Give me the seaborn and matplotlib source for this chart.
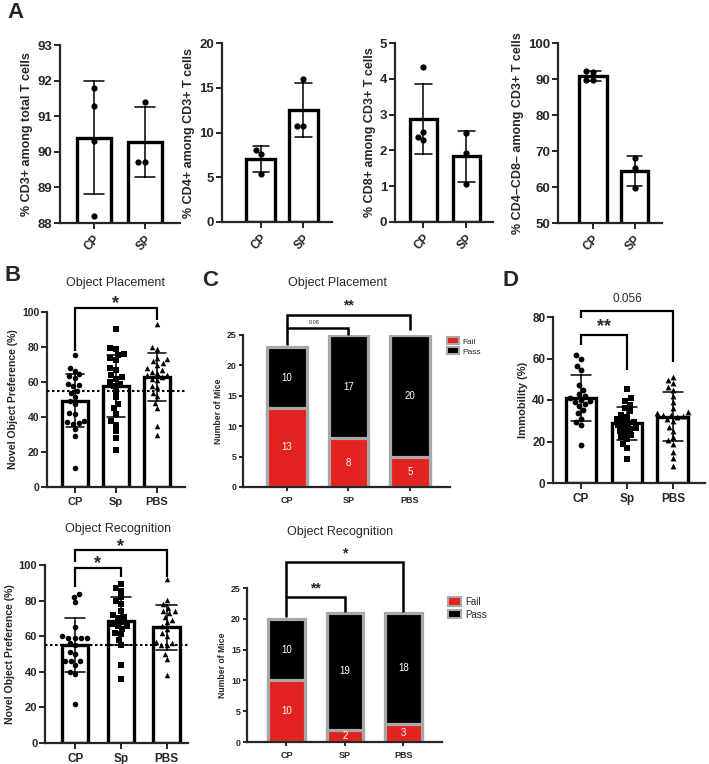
import warnings
import numpy as np
import pandas as pd
import matplotlib
matplotlib.use("Agg")
import matplotlib.pyplot as plt
import seaborn as sns
from matplotlib.patches import Patch

warnings.filterwarnings("ignore")

sns.set_style("ticks")
plt.rcParams['font.family'] = ['Liberation Sans', 'DejaVu Sans']

W, H = 709, 764

# ---------------- données ----------------
# Panel A : flow cytometry (CP vs SP)
groups_a = ["CP", "SP"]
cd3_cp = [91.8, 91.3, 90.3, 88.2]
cd3_sp = [91.4, 89.7, 89.7]
cd4_cp = [7.6, 8.1, 5.4]
cd4_sp = [16.0, 10.75, 10.75]
cd8_cp = [4.32, 2.52, 2.29, 2.37]
cd8_sp = [2.5, 1.93, 1.07]
dn_cp = [92.0, 92.3, 89.6, 89.8]
dn_sp = [68.0, 65.2, 59.8]

# Panel B / D groups
groups_b = ["CP", "Sp", "PBS"]

# B - Object Placement (% preference)
op_cp = [75.5, 68.0, 66.5, 64.5, 63.5, 62.5, 59.0, 58.5, 57.5, 55.0, 54.0, 51.5,
         49.0, 47.5, 42.5, 41.5, 37.5, 37.0, 36.0, 36.5, 29.0, 33.0, 11.0]
op_sp = [90.5, 79.5, 79.0, 76.0, 75.5, 73.5, 72.5, 68.0, 67.0, 64.0, 63.0, 62.0,
         60.0, 59.0, 58.0, 55.0, 51.5, 47.5, 45.0, 42.0, 37.5, 35.5, 32.0, 28.0, 21.0]
op_pbs = [93, 80, 79, 74, 73, 72, 71, 70, 68, 67, 66, 65, 64, 64, 63, 62, 61,
          58, 57, 54, 52, 48, 45, 35, 30]

# B - Object Recognition (% preference)
or_cp = [83.5, 82, 79, 65, 60, 59, 59, 59, 59, 56, 55, 51, 50, 46, 46, 46, 44, 40, 39, 22]
or_sp = [89.5, 87, 85.5, 82, 80, 78, 74, 72, 71, 70, 68, 67, 66, 66, 64, 62, 61,
         58, 55, 44, 36]
or_pbs = [92, 80.5, 78, 76, 74, 74, 73, 71, 69, 68, 66, 64, 62, 60, 57, 56, 55, 55,
          50, 47, 38]

# C - Fail / Pass counts
groups_c = ["CP", "SP", "PBS"]
op_fail = [13, 8, 5]
op_pass = [10, 17, 20]
or_fail = [10, 2, 3]
or_pass = [10, 19, 18]

# D - Immobility (%)
imm_cp = [61.5, 60, 56.5, 54.5, 47, 45, 43, 42, 41, 40, 39.5, 39, 38, 37, 35,
          33.5, 31, 29.5, 28, 18.5]
imm_sp = [45.5, 41, 39.5, 37.5, 36, 34.5, 33, 32, 31, 30, 29.5, 29, 28, 27, 26.5,
          26, 25, 24, 23, 22, 21, 19, 17, 11.5]
imm_pbs = [51, 49.5, 48, 46.5, 45, 42, 39, 36, 34, 33.5, 33, 33, 32.5, 32, 31, 30,
           27, 25, 22, 20.5, 19, 15, 12, 8]

RED = "#e2231f"
GREY = "#a8a8a8"

fig = plt.figure(figsize=(W / 100, H / 100), dpi=100)


def add_ax(x0, top, x1, bottom):
    return fig.add_axes([x0 / W, 1 - bottom / H, (x1 - x0) / W, (bottom - top) / H])


def style(ax, fs_x, fs_y):
    sns.despine(ax=ax)
    for s in ["left", "bottom"]:
        ax.spines[s].set_linewidth(1.6)
    ax.tick_params(width=1.4, length=4)
    ax.tick_params(axis="x", labelsize=fs_x)
    ax.tick_params(axis="y", labelsize=fs_y, pad=1.5)
    plt.setp(ax.get_xticklabels() + ax.get_yticklabels(), fontweight="bold")


def dot_bar(ax, groups, values, markers, width, ms, capsize, lw):
    df = pd.DataFrame({"g": np.repeat(groups, [len(v) for v in values]),
                       "v": np.concatenate(values)})
    sns.barplot(data=df, x="g", y="v", order=groups, errorbar="sd", capsize=capsize,
                width=width, color="white", edgecolor="black", linewidth=lw,
                err_kws={"color": "black", "linewidth": 1.1}, ax=ax)
    for ln in ax.lines:
        ln.set_zorder(5)
    for g, m in zip(groups, markers):
        sns.swarmplot(data=df[df.g == g], x="g", y="v", order=groups, marker=m,
                      color="black", size=ms, ax=ax, zorder=3)
    ax.set_xlabel("")


def bracket(ax, x1, x2, y, y1, y2, lw=1.6):
    ax.plot([x1, x1, x2, x2], [y1, y, y, y2], color="black", lw=lw,
            clip_on=False, solid_capstyle="butt", solid_joinstyle="miter")


# ---------------- Panel A ----------------
a_specs = [
    (cd3_cp, cd3_sp, "% CD3+ among total T cells", (88, 93), [88, 89, 90, 91, 92, 93],
     (60, 45, 180, 223), (-0.667, 1.686), 0.65),
    (cd4_cp, cd4_sp, "% CD4+ among CD3+ T cells", (0, 20), [0, 5, 10, 15, 20],
     (222, 43, 332, 222), (-0.906, 1.67), 0.68),
    (cd8_cp, cd8_sp, "% CD8+ among CD3+ T cells", (0, 5), [0, 1, 2, 3, 4, 5],
     (395, 43, 493, 222), (-0.66, 1.62), 0.63),
    (dn_cp, dn_sp, "% CD4\u2013CD8\u2013 among CD3+ T cells", (50, 100), [50, 60, 70, 80, 90, 100],
     (558, 43, 662, 223), (-0.84, 1.66), 0.66),
]
for cp, sp, ylab, ylim, yt, box, xl, wd in a_specs:
    ax = add_ax(*box)
    dot_bar(ax, groups_a, [cp, sp], ["o", "o"], wd, 4.5, 0.38, 2.4)
    ax.set_ylim(*ylim)
    ax.set_yticks(yt)
    ax.set_xlim(*xl)
    ax.set_ylabel(ylab, fontsize=9, fontweight="bold", labelpad=3)
    style(ax, 8.5, 9.5)
    for lab in ax.get_xticklabels():
        lab.set_rotation(45)
        lab.set_ha("right")
        lab.set_rotation_mode("anchor")

# ---------------- Panel B ----------------
ax = add_ax(47, 312, 185, 487)
dot_bar(ax, groups_b, [op_cp, op_sp, op_pbs], ["o", "s", "^"], 0.64, 4.0, 0.45, 2.4)
ax.set_ylim(0, 100)
ax.set_yticks([0, 20, 40, 60, 80, 100])
ax.set_xlim(-0.68, 2.68)
ax.axhline(55, color="black", ls=(0, (1.2, 1.2)), lw=1.5, zorder=6)
ax.set_ylabel("Novel Object Preference (%)", fontsize=7.6, fontweight="bold", labelpad=3)
style(ax, 8, 7.5)
bracket(ax, 0, 2, 102.3, 77.5, 95.5)
ax.text(1, 105, "*", ha="center", va="center", fontsize=13, fontweight="bold")

ax = add_ax(45, 565, 188, 743)
dot_bar(ax, groups_b, [or_cp, or_sp, or_pbs], ["o", "s", "^"], 0.58, 4.0, 0.45, 2.4)
ax.set_ylim(0, 100)
ax.set_yticks([0, 20, 40, 60, 80, 100])
ax.set_xlim(-0.66, 2.47)
ax.axhline(55, color="black", ls=(0, (1.2, 1.2)), lw=1.5, zorder=6)
ax.set_ylabel("Novel Object Preference (%)", fontsize=7.6, fontweight="bold", labelpad=3)
style(ax, 8.5, 8)
bracket(ax, 0, 2, 108.4, 101.7, 93.3)
bracket(ax, 0, 1, 98.3, 87.5, 93.3)
ax.text(1, 110.5, "*", ha="center", va="center", fontsize=13, fontweight="bold")
ax.text(0.5, 101, "*", ha="center", va="center", fontsize=13, fontweight="bold")


# ---------------- Panel C ----------------
def stacked(ax, fail, pas, width):
    total = [f + p for f, p in zip(fail, pas)]
    sns.barplot(x=groups_c, y=total, color="black", edgecolor=GREY, linewidth=2.3,
                width=width, saturation=1, ax=ax)
    sns.barplot(x=groups_c, y=fail, color=RED, edgecolor=GREY, linewidth=2.3,
                width=width, saturation=1, ax=ax)
    for i, (f, p) in enumerate(zip(fail, pas)):
        ax.text(i, f / 2, str(f), color="white", ha="center", va="center", fontsize=7)
        ax.text(i, f + p / 2, str(p), color="white", ha="center", va="center", fontsize=7)
    ax.set_ylim(0, 25)
    ax.set_yticks([0, 5, 10, 15, 20, 25])
    ax.set_ylabel("Number of Mice", fontsize=6.2, fontweight="bold", labelpad=3)
    style(ax, 6.5, 6.3)
    ax.tick_params(length=3)


leg_handles = [Patch(facecolor=RED, edgecolor=GREY, lw=1.5, label="Fail"),
               Patch(facecolor="black", edgecolor=GREY, lw=1.5, label="Pass")]

ax = add_ax(243, 335, 450, 487)
stacked(ax, op_fail, op_pass, 0.65)
ax.set_xlim(-0.715, 2.65)
bracket(ax, 0, 2, 28.3, 26.2, 25.8, lw=1.8)
bracket(ax, 0, 1, 26.2, 23.4, 25.0, lw=1.8)
ax.text(1, 29.8, "**", ha="center", va="center", fontsize=10, fontweight="bold")
ax.text(0.45, 27.0, "0.08", ha="center", va="center", fontsize=4)
fig.legend(handles=leg_handles, loc="upper left", bbox_to_anchor=(443 / W, 1 - 333 / H),
           frameon=False, fontsize=6, handlelength=1.4, handleheight=0.9,
           labelspacing=0.2, handletextpad=0.4, borderpad=0)

ax = add_ax(247, 588, 442, 742)
stacked(ax, or_fail, or_pass, 0.63)
ax.set_xlim(-0.675, 2.66)
bracket(ax, 0, 2, 29.2, 23.5, 21.1, lw=1.8)
bracket(ax, 0, 1, 23.5, 20.3, 21.1, lw=1.8)
ax.text(1, 30.6, "*", ha="center", va="center", fontsize=10, fontweight="bold")
ax.text(0.5, 25.0, "**", ha="center", va="center", fontsize=10, fontweight="bold")
fig.legend(handles=leg_handles, loc="upper left", bbox_to_anchor=(443 / W, 1 - 592 / H),
           frameon=False, fontsize=7, handlelength=1.4, handleheight=0.9,
           labelspacing=0.3, handletextpad=0.4, borderpad=0)

# ---------------- Panel D ----------------
ax = add_ax(553, 317, 705, 483)
dot_bar(ax, groups_b, [imm_cp, imm_sp, imm_pbs], ["o", "s", "^"], 0.67, 4.2, 0.45, 2.4)
ax.set_ylim(0, 80)
ax.set_yticks([0, 20, 40, 60, 80])
ax.set_xlim(-0.61, 2.7)
ax.set_ylabel("Immobility (%)", fontsize=8, fontweight="bold", labelpad=3)
style(ax, 8.5, 8.5)
bracket(ax, 0, 2, 82.9, 79.5, 58.3)
bracket(ax, 0, 1, 71.3, 66.5, 54.5)
ax.text(1, 88.5, "0.056", ha="center", va="center", fontsize=8.5)
ax.text(0.5, 75.5, "**", ha="center", va="center", fontsize=13, fontweight="bold")

# ---------------- titres / lettres ----------------
fig.text(115 / W, 1 - 283 / H, "Object Placement", ha="center", va="center", fontsize=9)
fig.text(337 / W, 1 - 283 / H, "Object Placement", ha="center", va="center", fontsize=9)
fig.text(118 / W, 1 - 529 / H, "Object Recognition", ha="center", va="center", fontsize=9)
fig.text(340 / W, 1 - 532 / H, "Object Recognition", ha="center", va="center", fontsize=9)

for lx, ly, letter in [(7, 13, "A"), (4, 275, "B"), (202, 280, "C"), (502, 280, "D")]:
    fig.text(lx / W, 1 - ly / H, letter, ha="left", va="center", fontsize=16, fontweight="bold")

fig.savefig("out.png", dpi=100)
